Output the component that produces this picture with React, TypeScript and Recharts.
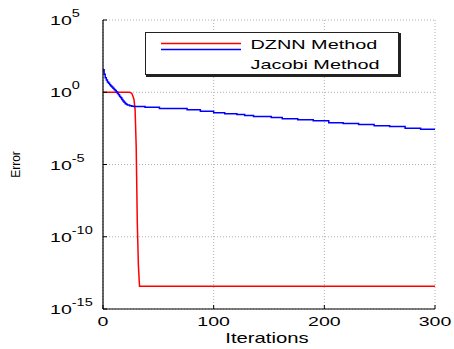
import React from "react";
import {
  LineChart,
  Line,
  XAxis,
  YAxis,
  CartesianGrid,
  Legend,
} from "recharts";

// DZNN method: error per iteration
const dznnIter = [0, 24, 25, 26, 27, 28, 29, 30, 31, 32, 33, 300];
const dznnError = [1, 1, 0.95, 0.82, 0.55, 0.32, 0.063, 1.6e-4, 9e-10, 1e-12, 3.8e-14, 3.8e-14];

// Jacobi method: error per iteration
const jacobiIter = [
  0, 1, 2, 3, 4, 5, 6, 7, 8, 9, 10, 11, 12, 13, 14, 15, 16, 17, 18, 19, 20, 21,
  22, 24, 26, 28, 38, 51, 76, 88, 100, 110, 121, 128, 136, 152, 162, 176, 190,
  204, 217, 231, 245, 259, 273, 287, 300,
];
const jacobiError = [
  36, 17.8, 10, 7.1, 5.2, 4.2, 3.3, 2.75, 2.3, 1.9, 1.58, 1.32, 1.07, 0.83,
  0.66, 0.51, 0.42, 0.32, 0.25, 0.2, 0.166, 0.148, 0.132, 0.115, 0.107, 0.102,
  0.093, 0.075, 0.061, 0.048, 0.038, 0.033, 0.029, 0.0245, 0.021, 0.018,
  0.0145, 0.0123, 0.0105, 0.0079, 0.0068, 0.0058, 0.0049, 0.0042, 0.0032,
  0.0028, 0.0028,
];

const iterTicks = [0, 100, 200, 300];
const errorTicks = [1e-15, 1e-10, 1e-5, 1, 1e5];

const seriesNames = ["DZNN Method", "Jacobi Method"];
const seriesColors = ["#ff0000", "#0000ff"];

const dznnData = dznnIter.map((i, k) => ({ i, v: dznnError[k] }));
const jacobiData = jacobiIter.map((i, k) => ({ i, v: jacobiError[k] }));

const FONT = "'Liberation Sans', Arial, Helvetica, sans-serif";
const STRETCH = 1.45;

const YTick = (props: any) => {
  const { y, payload } = props;
  const exp = Math.round(Math.log10(payload.value));
  return (
    <text
      transform={`translate(50 ${y + 5}) scale(${STRETCH} 1)`}
      fontFamily={FONT}
      fontSize={13.5}
      fill="#000"
    >
      10
      <tspan dy={-8} fontSize={10}>
        {exp}
      </tspan>
    </text>
  );
};

const XTick = (props: any) => {
  const { x, y, payload } = props;
  return (
    <text
      transform={`translate(${x} ${y + 19}) scale(${STRETCH} 1)`}
      textAnchor="middle"
      fontFamily={FONT}
      fontSize={13.5}
      fill="#000"
    >
      {payload.value}
    </text>
  );
};

const NoTick = () => <g />;

const XTitle = (props: any) => {
  const { viewBox } = props;
  const cx = viewBox.x + viewBox.width / 2 - 2;
  return (
    <text
      transform={`translate(${cx} ${viewBox.y + 34}) scale(${STRETCH} 1)`}
      textAnchor="middle"
      fontFamily={FONT}
      fontSize={14}
      fill="#000"
    >
      Iterations
    </text>
  );
};

const YTitle = (props: any) => {
  const { viewBox } = props;
  const cy = viewBox.y + viewBox.height / 2;
  return (
    <text
      transform={`translate(20 ${cy}) rotate(-90)`}
      textAnchor="middle"
      fontFamily={FONT}
      fontSize={12}
      fill="#000"
    >
      Error
    </text>
  );
};

const LegendBox = (props: any) => {
  const payload = (props.payload || []) as any[];
  return (
    <svg width={256} height={46} style={{ display: "block" }}>
      <rect x={0.5} y={0.5} width={253} height={42} fill="#fff" stroke="#222" strokeWidth={1} />
      <line x1={1} y1={44} x2={255} y2={44} stroke="#222" strokeWidth={2} />
      <line x1={255} y1={1} x2={255} y2={45} stroke="#222" strokeWidth={2} />
      {payload.map((p, k) => (
        <line
          key={`l${k}`}
          x1={16}
          x2={96}
          y1={11.6 + k * 6}
          y2={11.6 + k * 6}
          stroke={p.color}
          strokeWidth={1.5}
        />
      ))}
      {payload.map((p, k) => (
        <text
          key={`t${k}`}
          transform={`translate(105.5 ${16.6 + k * 20}) scale(1.47 1)`}
          fontFamily={FONT}
          fontSize={13.5}
          fill="#000"
        >
          {p.value}
        </text>
      ))}
    </svg>
  );
};

export default function App() {
  return (
    <div style={{ position: "absolute", left: 0, top: 0, width: 454, height: 349, background: "#fff" }}>
      <LineChart
        width={454}
        height={349}
        margin={{ top: 20, right: 19, bottom: 0, left: 0 }}
      >
        <CartesianGrid stroke="#b0b0b0" strokeDasharray="1 2" />
        <XAxis
          dataKey="i"
          type="number"
          domain={[0, 300]}
          ticks={iterTicks}
          height={40}
          allowDuplicatedCategory={false}
          axisLine={{ stroke: "#000", strokeWidth: 1.2 }}
          tickLine={{ stroke: "#000" }}
          tickSize={-4}
          tickMargin={2}
          tick={<XTick />}
          label={<XTitle />}
        />
        <XAxis
          xAxisId="top"
          orientation="top"
          dataKey="i"
          type="number"
          domain={[0, 300]}
          ticks={iterTicks}
          height={0}
          allowDuplicatedCategory={false}
          axisLine={{ stroke: "#222", strokeWidth: 1.5 }}
          tickLine={{ stroke: "#000" }}
          tickSize={-4}
          tick={<NoTick />}
        />
        <YAxis
          type="number"
          scale="log"
          domain={[1e-15, 1e5]}
          ticks={errorTicks}
          allowDataOverflow
          width={103}
          axisLine={{ stroke: "#000", strokeWidth: 1.2 }}
          tickLine={{ stroke: "#000" }}
          tickSize={-4}
          tick={<YTick />}
          label={<YTitle />}
        />
        <YAxis
          yAxisId="right"
          orientation="right"
          type="number"
          scale="log"
          domain={[1e-15, 1e5]}
          ticks={errorTicks}
          allowDataOverflow
          width={0}
          axisLine={{ stroke: "#000", strokeWidth: 1.2 }}
          tickLine={{ stroke: "#000" }}
          tickSize={-4}
          tick={<NoTick />}
        />
        <Legend
          layout="vertical"
          align="center"
          verticalAlign="middle"
          content={<LegendBox />}
          wrapperStyle={{ position: "absolute", left: 145, top: 32, width: 256, height: 46 }}
        />
        <Line
          data={dznnData}
          dataKey="v"
          name={seriesNames[0]}
          type="linear"
          stroke={seriesColors[0]}
          strokeWidth={1.5}
          dot={false}
          isAnimationActive={false}
        />
        <Line
          data={jacobiData}
          dataKey="v"
          name={seriesNames[1]}
          type="stepAfter"
          stroke={seriesColors[1]}
          strokeWidth={1.5}
          dot={false}
          isAnimationActive={false}
        />
      </LineChart>
    </div>
  );
}
